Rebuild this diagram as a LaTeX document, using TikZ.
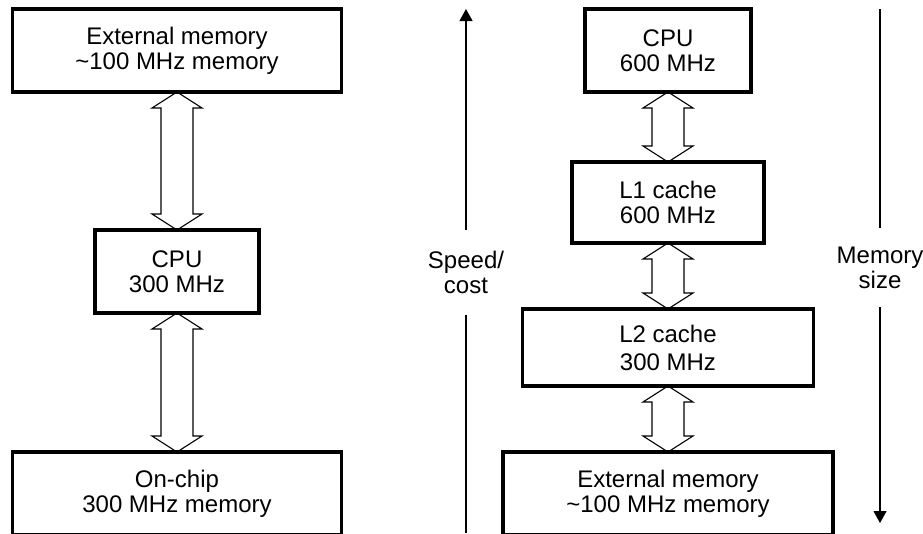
\documentclass[tikz,border=0pt]{standalone}
\usepackage{fontspec}
\setmainfont{Liberation Sans}
\usetikzlibrary{arrows.meta,calc}
\tikzset{
  box/.style={draw,line width=3.2pt,outer sep=0pt,align=center,minimum height=83pt},
  bus/.style={draw,line width=1.1pt,line join=miter},
  axis/.style={line width=1.1pt},
  axislabel/.style={align=center,inner sep=0pt},
}
% hollow double arrow from the bottom of #1 to the top of #2
\newcommand{\buspair}[2]{%
  \draw[bus] (#1.south) -- ++(25,-16) -- ++(-9,0) -- ($(#2.north)+(16,16)$)
    -- ++(9,0) -- (#2.north) -- ++(-25,16) -- ++(9,0)
    -- ($(#1.south)+(-16,-16)$) -- ++(-9,0) -- cycle;}

\begin{document}
\begin{tikzpicture}[x=1pt,y=1pt,font=\fontsize{24}{25}\selectfont]
\useasboundingbox (0,0) rectangle (923,-533);
\clip (0,0) rectangle (923,-533);
% left: cpu between external and on-chip memory
\node[box,minimum width=329pt] (ext1) at (177,-50.5) {External memory\\\textasciitilde100 MHz memory};
\node[box,minimum width=164pt] (cpu1) at (177,-271.5) {CPU\\300 MHz};
\node[box,minimum width=329pt] (chip) at (177,-493.5) {On-chip\\300 MHz memory};
\buspair{ext1}{cpu1}
\buspair{cpu1}{chip}
% right: cache hierarchy
\node[box,minimum width=166pt] (cpu2) at (668,-50.5) {CPU\\600 MHz};
\node[box,minimum width=192pt,minimum height=81pt] (l1) at (668,-202.5) {L1 cache\\600 MHz};
\node[box,minimum width=291pt,minimum height=77pt] (l2) at (668,-347.5) {L2 cache\\[3pt]300 MHz};
\node[box,minimum width=330pt] (ext2) at (668,-493.5) {External memory\\\textasciitilde100 MHz memory};
\buspair{cpu2}{l1}
\buspair{l1}{l2}
\buspair{l2}{ext2}
% axes
\node[axislabel,minimum height=85pt] (spd) at (466,-272.5) {Speed/\\cost};
\coordinate (spdtop) at (466,-9);
\coordinate (spdend) at (466,-533);
\draw[axis,-{Triangle[length=12pt,width=13pt]}] (spd) -- (spdtop);
\draw[axis] (spd) -- (spdend);
\node[axislabel,minimum height=79pt] (mem) at (880,-267.5) {Memory\\size};
\coordinate (memtop) at (880,-9);
\coordinate (memend) at (880,-523);
\draw[axis] (mem) -- (memtop);
\draw[axis,-{Triangle[length=12pt,width=13pt]}] (mem) -- (memend);
\end{tikzpicture}
\end{document}
